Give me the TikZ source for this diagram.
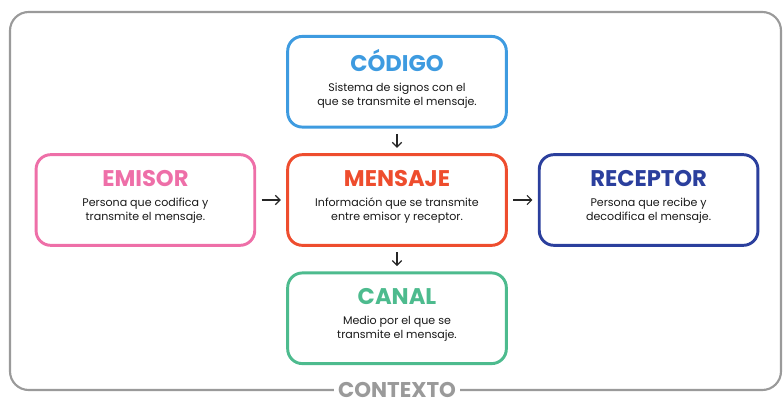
\documentclass[tikz,border=0pt]{standalone}
\usepackage{fontspec}
\setmainfont{Poppins}
\usepackage{tikz}
\usetikzlibrary{positioning,arrows,arrows.meta}
\definecolor{codblue}{HTML}{3E9BE0}
\definecolor{emipink}{HTML}{EE6FA8}
\definecolor{menred}{HTML}{EE4D2E}
\definecolor{recblue}{HTML}{2B3F9D}
\definecolor{cangreen}{HTML}{4DBB8E}
\definecolor{ctxgray}{HTML}{9A9A9A}
% title, then two lines of text
\newcommand{\boxlabel}[4]{{\fontsize{17}{19}\selectfont\bfseries\color{#1}#2}\\[4.7pt]#3\\#4\rule[-6.7pt]{0pt}{6.7pt}}

\begin{document}
\begin{tikzpicture}[x=0.75pt,y=-0.75pt,node distance={18.5pt and 22.5pt},
	elem/.style={draw,rounded corners=11pt,line width=2.2pt,minimum width=164pt,minimum height=68pt,align=center,font=\fontsize{8.3}{10.3}\selectfont,text=black!90},
	link/.style={-{Straight Barb[length=3.5pt,width=7pt,line width=0.9pt]},line width=0.9pt,black!85,shorten >=4pt,shorten <=4pt}]
			\useasboundingbox (0,0) rectangle (784,400);
			\draw[ctxgray,line width=1.6pt,rounded corners=14pt] (10,12) rectangle (781,390);
			\node[fill=white,text=ctxgray,font=\fontsize{16}{18}\selectfont\bfseries,inner xsep=3pt] (ctx) at (397,390) {CONTEXTO};

			\node[elem,draw=menred] (mensaje) at (397,200) {\boxlabel{menred}{MENSAJE}{Información que se transmite}{entre emisor y receptor.}};
			\node[elem,draw=codblue] (codigo) [above=of mensaje] {\boxlabel{codblue}{CÓDIGO}{Sistema de signos con el}{que se transmite el mensaje.}};
			\node[elem,draw=emipink] (emisor) [left=of mensaje] {\boxlabel{emipink}{EMISOR}{Persona que codifica y}{transmite el mensaje.}};
			\node[elem,draw=recblue] (receptor) [right=of mensaje] {\boxlabel{recblue}{RECEPTOR}{Persona que recibe y}{decodifica el mensaje.}};
			\node[elem,draw=cangreen] (canal) [below=of mensaje] {\boxlabel{cangreen}{CANAL}{Medio por el que se}{transmite el mensaje.}};

			\draw[link] (codigo) -- (mensaje);
			\draw[link] (emisor) -- (mensaje);
			\draw[link] (mensaje) -- (receptor);
			\draw[link] (mensaje) -- (canal);
\end{tikzpicture}
\end{document}
